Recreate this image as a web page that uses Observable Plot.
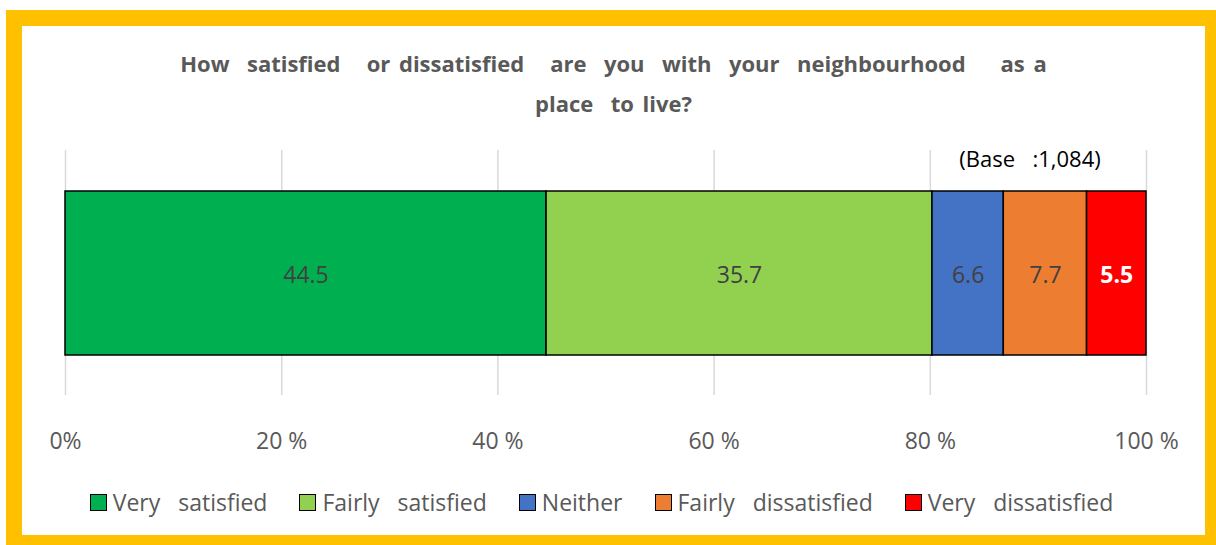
<!DOCTYPE html>
<html>
<head>
<meta charset="utf-8">
<script src="https://cdn.jsdelivr.net/npm/d3@7"></script>
<script src="https://cdn.jsdelivr.net/npm/@observablehq/plot@0.6"></script>
<style>
  html, body { margin: 0; padding: 0; width: 1216px; height: 545px; overflow: hidden; background: #fff; }
  body { position: relative; font-family: "Open Sans", "Liberation Sans", sans-serif; color: #595959; }
  #frame { position: absolute; left: 6px; top: 10px; width: 1215px; height: 541px; box-sizing: border-box; border: 16px solid #FFC000; background: #fff; }
  .title { position: absolute; left: 22px; width: 1183px; text-align: center; font-weight: bold; font-size: 22px; white-space: pre; color: #595959; word-spacing: 3px; }
  #base { position: absolute; left: 930px; width: 200px; top: 143px; text-align: center; font-size: 22px; color: #000; white-space: pre; word-spacing: 3px; }
  #chart { position: absolute; left: 22px; top: 140px; }
  #legend { position: absolute; left: 10px; width: 1183px; top: 486px; display: flex; justify-content: center; font-size: 23px; color: #595959; white-space: pre; word-spacing: 3px; }
  .item { display: flex; align-items: center; margin: 0 16px; }
  .sw { width: 17px; height: 17px; border: 1.5px solid #000; margin-right: 6px; box-sizing: border-box; }
</style>
</head>
<body>
<div id="frame"></div>
<div class="title" style="top:48px">How  satisfied   or dissatisfied   are  you  with  your  neighbourhood    as a</div>
<div class="title" style="top:88px">place  to live?</div>
<div id="base">(Base  :1,084)</div>
<div id="chart"></div>
<div id="legend"></div>
<script>
const categories = ["Very  satisfied", "Fairly  satisfied", "Neither", "Fairly  dissatisfied", "Very  dissatisfied"];
const values = [44.5, 35.7, 6.6, 7.7, 5.5];
const colors = ["#00B050", "#92D050", "#4472C4", "#ED7D31", "#FF0000"];
const tickValues = [0, 20, 40, 60, 80, 100];
const tickLabels = ["0%", "20 %", "40 %", "60 %", "80 %", "100 %"];

let acc = 0;
const data = categories.map((c, i) => {
  const start = acc; acc += values[i];
  return { category: c, value: values[i], start, end: acc, last: i === categories.length - 1 };
});

const chart = Plot.plot({
  width: 1183,
  height: 320,
  marginLeft: 43,
  marginRight: 59,
  marginTop: 10,
  marginBottom: 65,
  style: { fontFamily: "'Open Sans', sans-serif", background: "transparent" },
  x: { domain: [0, 100], axis: null },
  color: { domain: categories, range: colors },
  marks: [
    Plot.ruleX(tickValues, { stroke: "#d9d9d9", strokeWidth: 1.5 }),
    Plot.barX(data, { x1: "start", x2: "end", fill: "category", stroke: "#000", strokeWidth: 1.5, insetTop: 41, insetBottom: 40 }),
    Plot.text(data, { filter: d => !d.last, x: d => (d.start + d.end) / 2, frameAnchor: "middle", text: d => d.value.toFixed(1), fill: "#404040", fontSize: 23, dy: 3 }),
    Plot.text(data, { filter: d => d.last, x: d => (d.start + d.end) / 2, frameAnchor: "middle", text: d => d.value.toFixed(1), fill: "#fff", fontWeight: "bold", fontSize: 23, dy: 3 }),
    Plot.axisX({ ticks: tickValues, tickFormat: d => tickLabels[tickValues.indexOf(d)], tickSize: 0, tickPadding: 37, fontSize: 23, fill: "#595959" })
  ]
});
document.getElementById("chart").appendChild(chart);

const legend = document.getElementById("legend");
categories.forEach((c, i) => {
  const item = document.createElement("div");
  item.className = "item";
  const sw = document.createElement("div");
  sw.className = "sw";
  sw.style.background = colors[i];
  const label = document.createElement("span");
  label.textContent = c;
  item.appendChild(sw);
  item.appendChild(label);
  legend.appendChild(item);
});
</script>
</body>
</html>
